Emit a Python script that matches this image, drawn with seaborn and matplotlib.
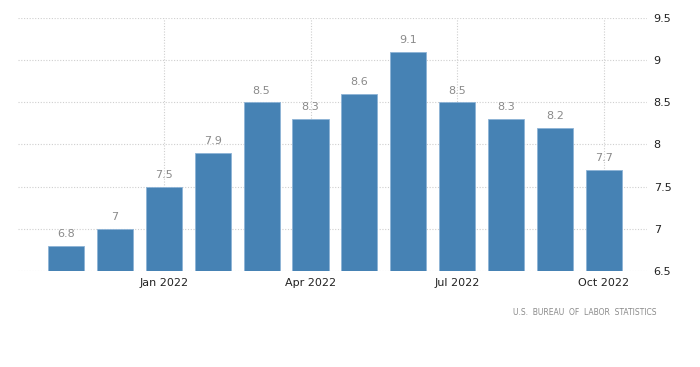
import numpy as np
import pandas as pd
import matplotlib.pyplot as plt
import seaborn as sns
from matplotlib.ticker import FuncFormatter

months = ["Nov 2021", "Dec 2021", "Jan 2022", "Feb 2022", "Mar 2022", "Apr 2022",
          "May 2022", "Jun 2022", "Jul 2022", "Aug 2022", "Sep 2022", "Oct 2022"]
rates = [6.8, 7.0, 7.5, 7.9, 8.5, 8.3, 8.6, 9.1, 8.5, 8.3, 8.2, 7.7]
shown_ticks = ["Jan 2022", "Apr 2022", "Jul 2022", "Oct 2022"]
y_ticks = [6.5, 7, 7.5, 8, 8.5, 9, 9.5]

df = pd.DataFrame({"month": months, "rate": rates})

sns.set_style("white")
plt.rcParams['font.family'] = ['DejaVu Sans']

fig = plt.figure(figsize=(7, 3.67), dpi=100)
ax = fig.add_axes([0.026, 0.262, 0.898, 0.689])

sns.barplot(data=df, x="month", y="rate", color="#4682b4", saturation=1,
            width=0.74, edgecolor="#8db3d6", linewidth=0.6, ax=ax, zorder=3)

ax.set_ylim(6.5, 9.5)
ax.set_xlim(-0.98, 11.88)
ax.set_yticks(y_ticks)
ax.yaxis.set_major_formatter(FuncFormatter(lambda v, p: f"{v:g}"))
ax.yaxis.tick_right()
ax.tick_params(axis="y", length=0, pad=5, labelsize=8, labelcolor="#222222")

pos = [months.index(m) for m in shown_ticks]
ax.set_xticks(pos)
ax.set_xticklabels(shown_ticks)
ax.tick_params(axis="x", length=0, pad=5, labelsize=8, labelcolor="#222222")
ax.set_xlabel("")
ax.set_ylabel("")

ax.grid(True, axis="both", linestyle=(0, (1, 1.5)), color="#cfcfcf", linewidth=0.8, zorder=0)
for s in ax.spines.values():
    s.set_visible(False)

for i, v in enumerate(rates):
    ax.text(i, v + 0.08, f"{v:g}", ha="center", va="bottom", fontsize=8, color="#8a8a8a")

fig.text(0.938, 0.148, "U.S.  BUREAU  OF  LABOR  STATISTICS", ha="right", va="center",
         fontsize=5.5, color="#8a8a8a")

fig.savefig("out.png", dpi=100)
